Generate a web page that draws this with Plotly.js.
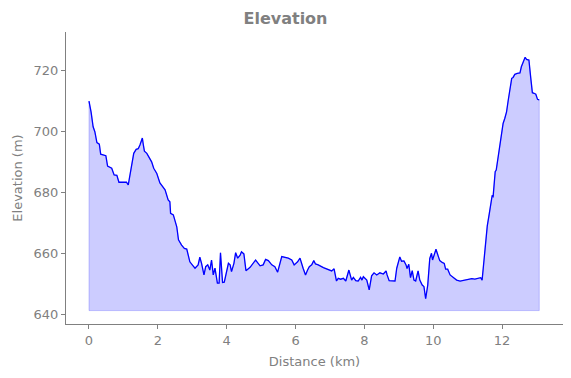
<!DOCTYPE html>
<html>
<head>
<meta charset="utf-8">
<script src="https://cdn.plot.ly/plotly-3.0.1.min.js"></script>
<style>html,body{margin:0;padding:0;background:#fff;}#chart{width:571px;height:378px;}</style>
</head>
<body>
<div id="chart"></div>
<script>
// Distance along route (km)
const distanceKm = [
  0.00,0.06,0.12,0.17,0.23,0.30,0.34,0.49,0.54,0.66,0.73,0.81,0.87,1.00,1.09,1.14,1.18,1.24,1.30,1.37,
  1.43,1.48,1.52,1.55,1.58,1.61,1.68,1.74,1.82,1.88,1.97,2.06,2.21,2.30,2.35,2.37,2.45,2.55,2.60,2.69,
  2.77,2.84,2.88,2.93,3.03,3.08,3.17,3.22,3.27,3.34,3.39,3.45,3.51,3.56,3.61,3.66,3.73,3.78,3.82,3.88,
  3.93,4.00,4.05,4.10,4.14,4.21,4.26,4.32,4.39,4.43,4.50,4.56,4.68,4.84,4.97,5.06,5.13,5.21,5.31,5.40,
  5.48,5.60,5.79,5.89,5.96,6.06,6.13,6.22,6.29,6.35,6.40,6.47,6.53,6.58,6.66,6.81,6.95,7.05,7.12,7.19,
  7.24,7.31,7.39,7.46,7.55,7.63,7.68,7.75,7.82,7.89,7.93,7.97,8.07,8.14,8.21,8.28,8.36,8.45,8.55,8.63,
  8.66,8.72,8.89,8.94,9.03,9.08,9.15,9.21,9.24,9.29,9.34,9.39,9.44,9.49,9.56,9.61,9.68,9.73,9.78,9.84,
  9.90,9.95,9.98,10.05,10.08,10.15,10.19,10.26,10.32,10.36,10.42,10.49,10.58,10.68,10.78,10.92,11.02,11.12,11.21,11.31,
  11.38,11.42,11.47,11.53,11.57,11.63,11.68,11.71,11.74,11.77,11.80,11.83,11.87,11.92,11.97,12.03,12.08,12.13,12.18,12.23,
  12.28,12.32,12.37,12.44,12.52,12.56,12.61,12.67,12.71,12.78,12.83,12.88,12.93,12.98,13.03,13.08
];
// Elevation (m)
const elevationM = [
  709.9,706.4,701.5,699.9,696.3,695.8,692.5,692.0,688.6,687.9,685.7,685.6,683.3,683.4,683.3,682.4,684.9,688.4,692.8,694.1,
  694.3,695.5,696.6,697.8,695.5,693.5,692.8,691.5,690.0,687.9,686.2,683.1,680.8,677.5,676.9,673.1,672.6,668.7,664.4,662.7,
  661.6,661.4,659.4,657.2,655.8,655.1,656.2,658.7,656.7,652.9,655.6,656.2,654.5,657.8,652.9,655.1,650.2,650.2,660.2,650.4,
  650.5,654.0,656.7,656.2,654.0,656.7,660.2,658.4,659.4,660.5,659.8,654.3,655.4,657.8,655.9,656.2,658.0,657.6,656.2,655.6,
  653.8,658.9,658.4,657.8,656.2,657.2,658.4,655.1,652.9,654.5,655.6,656.2,657.6,656.5,656.2,655.3,654.5,654.2,654.9,650.9,
  651.8,651.5,651.8,650.9,654.5,651.2,652.1,651.0,650.9,652.1,651.2,652.3,651.2,648.0,652.6,653.6,652.9,653.6,653.2,654.2,
  652.9,651.0,650.9,655.1,658.8,657.4,657.5,656.2,655.0,656.4,652.0,654.3,651.2,650.9,654.2,651.2,649.6,649.1,645.1,649.5,
  658.3,660.0,657.8,660.9,661.3,658.9,657.6,657.0,656.7,654.8,654.8,652.9,652.0,651.2,650.9,651.2,651.5,651.7,651.5,651.7,
  652.0,651.2,656.7,663.3,669.0,673.1,678.0,678.8,678.6,683.0,686.8,687.3,690.6,695.0,698.8,702.6,704.3,706.4,710.3,714.6,
  717.4,717.7,718.7,719.0,719.2,721.2,722.5,724.3,723.6,723.4,717.9,712.7,712.5,712.2,710.5,710.3
];
const fillBase = 641.2;
const xTicks = [0, 2, 4, 6, 8, 10, 12];
const yTicks = [640, 660, 680, 700, 720];

const n = distanceKm.length;
const polyX = distanceKm.concat([distanceKm[n - 1], distanceKm[0], distanceKm[0]]);
const polyY = elevationM.concat([fillBase, fillBase, elevationM[0]]);

const grey = '#808080';
const font = 'DejaVu Sans, sans-serif';

const traces = [
  {
    x: polyX, y: polyY, type: 'scatter', mode: 'lines', fill: 'toself',
    fillcolor: 'rgba(0,0,255,0.2)', line: {color: 'rgba(0,0,255,0.2)', width: 1},
    hoverinfo: 'skip', showlegend: false
  },
  {
    x: distanceKm, y: elevationM, type: 'scatter', mode: 'lines',
    line: {color: '#0000ff', width: 1.3}, showlegend: false
  }
];

const layout = {
  width: 571, height: 378,
  margin: {l: 66, r: 8, t: 32, b: 54},
  paper_bgcolor: '#ffffff', plot_bgcolor: '#ffffff',
  font: {family: font, color: grey, size: 13},
  title: {
    text: '<b>Elevation</b>', font: {family: font, size: 16, color: grey},
    x: 0.5, xref: 'container', xanchor: 'center',
    y: 1 - 18 / 378, yref: 'container', yanchor: 'middle'
  },
  xaxis: {
    range: [-0.668, 13.77], tickvals: xTicks, ticktext: xTicks.map(String),
    showgrid: false, zeroline: false, showline: true, linecolor: grey, linewidth: 1,
    ticks: 'outside', ticklen: 4, tickcolor: grey, tickwidth: 1,
    tickfont: {family: font, size: 13, color: grey},
    title: {text: 'Distance (km)', font: {family: font, size: 13, color: grey}, standoff: 10}
  },
  yaxis: {
    range: [636.8, 732.6], tickvals: yTicks, ticktext: yTicks.map(String),
    showgrid: false, zeroline: false, showline: true, linecolor: grey, linewidth: 1,
    ticks: 'outside', ticklen: 4, tickcolor: grey, tickwidth: 1,
    tickfont: {family: font, size: 13, color: grey},
    title: {text: 'Elevation (m)', font: {family: font, size: 13, color: grey}, standoff: 8}
  }
};

Plotly.newPlot('chart', traces, layout, {displayModeBar: false, staticPlot: true});
</script>
</body>
</html>
